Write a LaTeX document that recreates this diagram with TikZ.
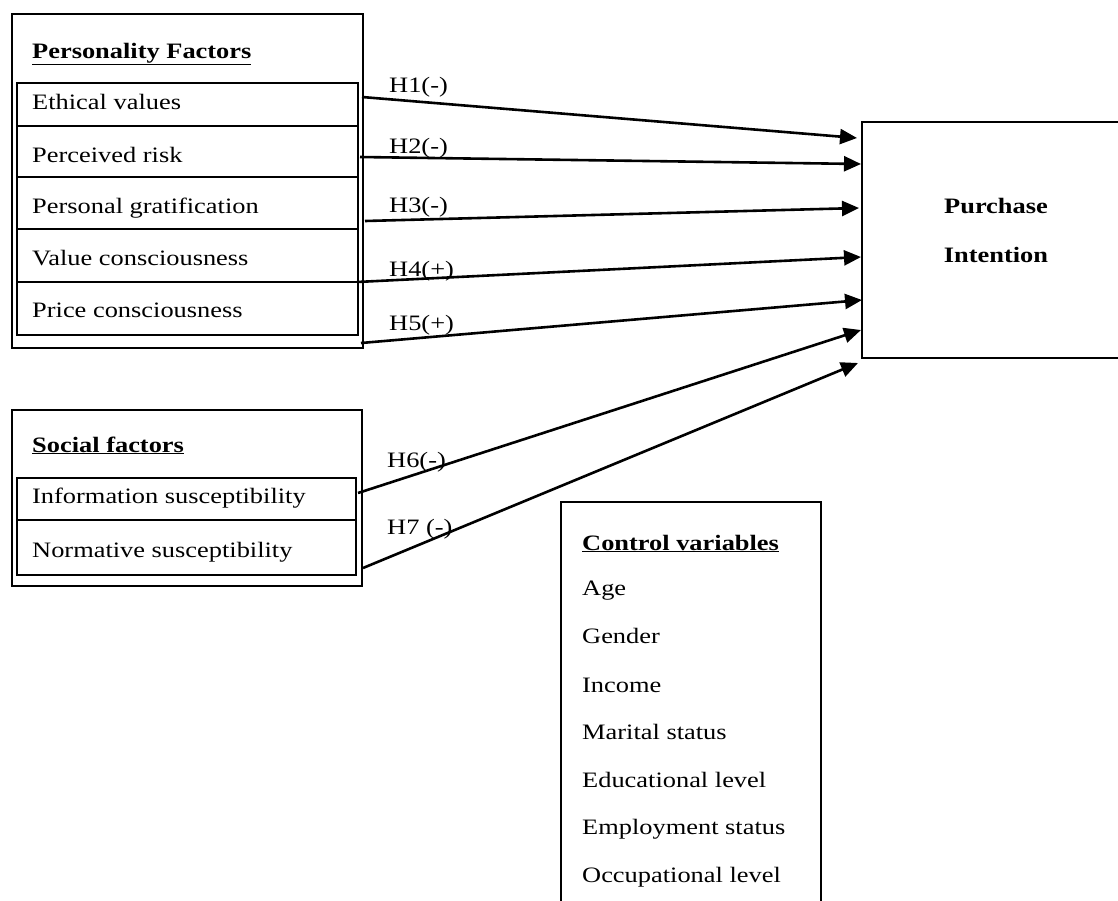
\documentclass[tikz,border=0pt]{standalone}
\usepackage{fontspec}
\setmainfont{Liberation Serif}[FakeStretch=1.2]
\usetikzlibrary{arrows.meta}
\begin{document}
\begin{tikzpicture}[x=1pt,y=-1pt,
  box/.style={draw,line width=1.6pt,inner sep=0pt,anchor=north west},
  txt/.style={anchor=base west,inner sep=0pt,font=\fontsize{22}{26}\selectfont},
  ttl/.style={anchor=base west,inner sep=0pt,font=\fontsize{22}{26}\selectfont\bfseries},
  hlab/.style={anchor=base west,inner sep=0pt,font=\fontsize{22}{26}\selectfont},
  arr/.style={line width=2.6pt,-{Triangle[length=17pt,width=15pt]}}]
\useasboundingbox (0,0) rectangle (1118,900);
\clip (0,0) rectangle (1118,900);
% Personality factors
\node[box,minimum width=351pt,minimum height=334pt] (pf) at (11,13) {};
\node[box,minimum width=341pt,minimum height=43pt] (r1) at (16,82) {};
\node[box,minimum width=341pt,minimum height=51pt] (r2) at (16,125) {};
\node[box,minimum width=341pt,minimum height=52pt] (r3) at (16,176) {};
\node[box,minimum width=341pt,minimum height=53pt] (r4) at (16,228) {};
\node[box,minimum width=341pt,minimum height=53pt] (r5) at (16,281) {};
\node[ttl] (pft) at (32,58) {\underline{Personality Factors}};
\node[txt] (t1) at (32,109) {Ethical values};
\node[txt] (t2) at (32,162) {Perceived risk};
\node[txt] (t3) at (32,213) {Personal gratification};
\node[txt] (t4) at (32,265) {Value consciousness};
\node[txt] (t5) at (32,317) {Price consciousness};
% Social factors
\node[box,minimum width=350pt,minimum height=176pt] (sf) at (11,409) {};
\node[box,minimum width=339pt,minimum height=42pt] (s1) at (16,477) {};
\node[box,minimum width=339pt,minimum height=55pt] (s2) at (16,519) {};
\node[ttl] (sft) at (32,452) {\underline{Social factors}};
\node[txt] (u1) at (32,503) {Information susceptibility};
\node[txt] (u2) at (32,557) {Normative susceptibility};
% Purchase intention
\node[box,minimum width=280pt,minimum height=236pt] (pi) at (861,121) {};
\node[anchor=base,inner sep=0pt,font=\fontsize{22}{26}\selectfont\bfseries] (pi1) at (996,213) {Purchase};
\node[anchor=base,inner sep=0pt,font=\fontsize{22}{26}\selectfont\bfseries] (pi2) at (996,262) {Intention};
% Control variables
\coordinate (cbl) at (561,910);
\coordinate (ctl) at (561,502);
\coordinate (ctr) at (821,502);
\coordinate (cbr) at (821,910);
\draw[line width=1.6pt] (cbl) -- (ctl) -- (ctr) -- (cbr);
\node[ttl] (cvt) at (582,550) {\underline{Control variables}};
\node[txt] (c1) at (582,595) {Age};
\node[txt] (c2) at (582,643) {Gender};
\node[txt] (c3) at (582,692) {Income};
\node[txt] (c4) at (582,739) {Marital status};
\node[txt] (c5) at (582,787) {Educational level};
\node[txt] (c6) at (582,834) {Employment status};
\node[txt] (c7) at (582,882) {Occupational level};
% arrow end points
\coordinate (a1) at (362,97);   \coordinate (b1) at (857,138);
\coordinate (a2) at (360,157);  \coordinate (b2) at (861,164);
\coordinate (a3) at (365,221);  \coordinate (b3) at (859,208);
\coordinate (a4) at (357,282);  \coordinate (b4) at (861,257);
\coordinate (a5) at (361,343);  \coordinate (b5) at (862,300);
\coordinate (a6) at (358,493);  \coordinate (b6) at (861,330);
\coordinate (a7) at (363,568);  \coordinate (b7) at (858,363);
\foreach \i in {1,...,7} \draw[arr] (a\i) -- (b\i);
% labels
\node[hlab] (h1) at (389,92) {H1(-)};
\node[hlab] (h2) at (389,153) {H2(-)};
\node[hlab] (h3) at (389,212) {H3(-)};
\node[hlab] (h4) at (389,276) {H4(+)};
\node[hlab] (h5) at (389,330) {H5(+)};
\node[hlab] (h6) at (387,467) {H6(-)};
\node[hlab] (h7) at (387,534) {H7 (-)};
\end{tikzpicture}
\end{document}
